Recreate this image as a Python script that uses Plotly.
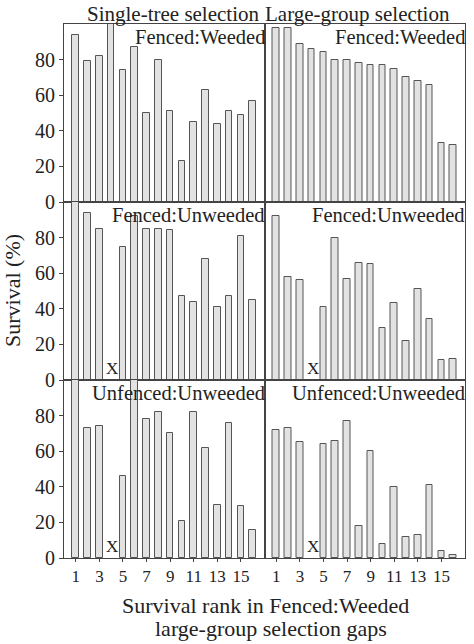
import plotly.graph_objects as go
from plotly.subplots import make_subplots

# Survival (%) by rank of Fenced:Weeded large-group selection gaps
ranks = list(range(1, 17))
rank_ticks = [1, 3, 5, 7, 9, 11, 13, 15]

single_fenced_weeded = [94, 79, 82, 100, 74, 87, 50, 80, 51, 23, 45, 63, 44, 51, 49, 57]
large_fenced_weeded = [98, 98, 89, 86, 84, 80, 80, 78, 77, 77, 75, 70, 68, 66, 33, 32]
single_fenced_unweeded = [100, 94, 85, None, 75, 92, 85, 85, 84, 47, 44, 68, 41, 47, 81, 45]
large_fenced_unweeded = [92, 58, 56, None, 41, 80, 57, 66, 65, 29, 43, 22, 51, 34, 11, 12]
single_unfenced_unweeded = [100, 73, 74, None, 46, 100, 78, 82, 70, 21, 82, 62, 30, 76, 29, 16]
large_unfenced_unweeded = [72, 73, 65, None, 64, 66, 77, 18, 60, 8, 40, 12, 13, 41, 4, 1.5]

column_titles = ["Single-tree selection", "Large-group selection"]
row_labels = ["Fenced:Weeded", "Fenced:Unweeded", "Unfenced:Unweeded"]
x_title = ["Survival rank in Fenced:Weeded", "large-group selection gaps"]
missing_rank = 4

panels = [
    [single_fenced_weeded, large_fenced_weeded],
    [single_fenced_unweeded, large_fenced_unweeded],
    [single_unfenced_unweeded, large_unfenced_unweeded],
]

FONT = "Liberation Serif"
LINE = "#444444"
TXT = "#222222"

fig = make_subplots(rows=3, cols=2, shared_xaxes=True, shared_yaxes=True,
                    horizontal_spacing=0, vertical_spacing=0)

for r, row in enumerate(panels, start=1):
    for c, vals in enumerate(row, start=1):
        fig.add_trace(go.Bar(
            x=ranks, y=vals, width=0.56,
            marker=dict(color="#e2e2e2", line=dict(color="#555555", width=1)),
            cliponaxis=False, showlegend=False, hoverinfo="skip",
        ), row=r, col=c)
        # panel label, top right
        fig.add_annotation(text=row_labels[r - 1], xref="x domain", yref="y domain",
                           x=1.0, y=1.0, xanchor="right", yanchor="top",
                           xshift=2, showarrow=False, font=dict(size=20.5, color=TXT),
                           row=r, col=c)
        if None in vals:
            fig.add_annotation(text="X", x=missing_rank, y=0, yanchor="bottom",
                               showarrow=False, xshift=1, yshift=0,
                               font=dict(size=17, color=TXT), row=r, col=c)

fig.update_xaxes(range=[0, 17], tickvals=rank_ticks, showgrid=False, zeroline=False,
                 showline=True, mirror=True, linecolor=LINE, linewidth=1,
                 ticks="", tickfont=dict(size=17, color=TXT))
fig.update_xaxes(ticks="outside", ticklen=3, tickcolor=LINE, row=3)
fig.update_yaxes(range=[0, 100], tickvals=[0, 20, 40, 60, 80], showgrid=False,
                 zeroline=False, showline=True, mirror=True, linecolor=LINE,
                 linewidth=1, ticks="outside", ticklen=4, tickcolor=LINE,
                 tickfont=dict(size=20, color=TXT))
fig.update_yaxes(ticks="", col=2)

for txt, xpos in zip(column_titles, [0.274, 0.732]):
    fig.add_annotation(text=txt, xref="paper", yref="paper", x=xpos, y=1.0,
                       yshift=24, xanchor="center", yanchor="top", showarrow=False,
                       font=dict(size=21, color=TXT))

fig.add_annotation(text="Survival (%)", xref="paper", yref="paper", x=0, y=0.5,
                   xanchor="center", xshift=-52, textangle=-90, showarrow=False,
                   font=dict(size=22, color=TXT))
for line, xpos, shift in zip(x_title, [0.503, 0.515], [-47, -70]):
    fig.add_annotation(text=line, xref="paper", yref="paper", x=xpos, y=0,
                       yshift=shift, xanchor="center", yanchor="middle",
                       showarrow=False, font=dict(size=22, color=TXT))

fig.update_layout(
    width=474, height=644,
    margin=dict(l=64, r=9, t=24, b=86),
    plot_bgcolor="white", paper_bgcolor="white",
    font=dict(family=FONT, color=TXT),
    bargap=0,
)

# page body margin would push the fixed-size figure out of the window
fig.write_html("out.html", config={"displayModeBar": False},
               post_script="document.body.style.margin='0px';")
